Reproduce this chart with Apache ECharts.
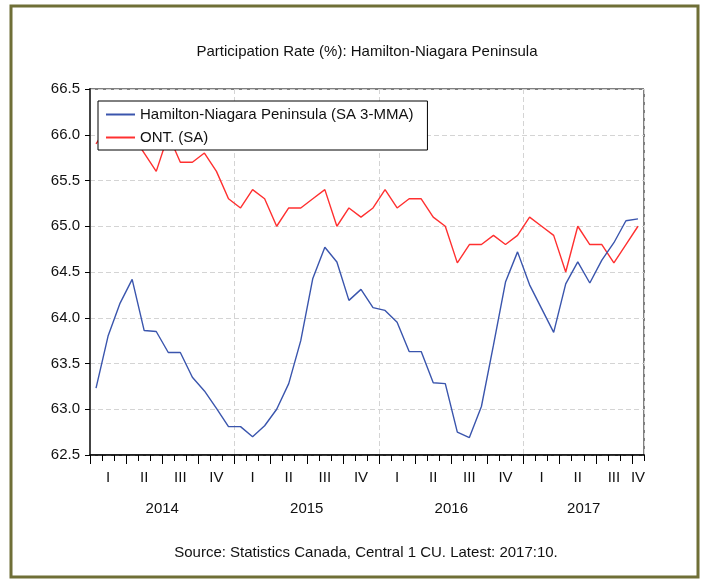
<!DOCTYPE html>
<html>
<head>
<meta charset="utf-8">
<script src="https://cdn.jsdelivr.net/npm/echarts@6/dist/echarts.min.js"></script>
<style>
  html, body { margin: 0; padding: 0; background: #fff; }
  #chart { width: 704px; height: 580px; }
</style>
</head>
<body>
<div id="chart"></div>
<script>
// Monthly observations, Jan 2014 - Oct 2017
const months = [
  '2014:01','2014:02','2014:03','2014:04','2014:05','2014:06','2014:07','2014:08','2014:09','2014:10','2014:11','2014:12',
  '2015:01','2015:02','2015:03','2015:04','2015:05','2015:06','2015:07','2015:08','2015:09','2015:10','2015:11','2015:12',
  '2016:01','2016:02','2016:03','2016:04','2016:05','2016:06','2016:07','2016:08','2016:09','2016:10','2016:11','2016:12',
  '2017:01','2017:02','2017:03','2017:04','2017:05','2017:06','2017:07','2017:08','2017:09','2017:10'
];

// Participation rate, Hamilton-Niagara Peninsula (SA 3-month moving average)
const hamiltonNiagara = [
  63.23, 63.80, 64.16, 64.42, 63.86, 63.85, 63.62, 63.62, 63.35, 63.20, 63.01, 62.81,
  62.81, 62.70, 62.82, 63.00, 63.28, 63.75, 64.43, 64.77, 64.61, 64.19, 64.31, 64.11,
  64.08, 63.95, 63.63, 63.63, 63.29, 63.28, 62.75, 62.69, 63.03, 63.70, 64.39, 64.72,
  64.36, 64.10, 63.84, 64.37, 64.61, 64.38, 64.63, 64.82, 65.06, 65.08
];

// Participation rate, Ontario (SA)
const ontario = [
  65.9, 66.1, 66.0, 66.0, 65.8, 65.6, 66.0, 65.7, 65.7, 65.8, 65.6, 65.3,
  65.2, 65.4, 65.3, 65.0, 65.2, 65.2, 65.3, 65.4, 65.0, 65.2, 65.1, 65.2,
  65.4, 65.2, 65.3, 65.3, 65.1, 65.0, 64.6, 64.8, 64.8, 64.9, 64.8, 64.9,
  65.1, 65.0, 64.9, 64.5, 65.0, 64.8, 64.8, 64.6, 64.8, 65.0
];

const quarterNames = ['I', 'II', 'III', 'IV'];
const seriesNames = ['Hamilton-Niagara Peninsula (SA 3-MMA)', 'ONT. (SA)'];
const titleText = 'Participation Rate (%): Hamilton-Niagara Peninsula';
const sourceText = 'Source: Statistics Canada, Central 1 CU. Latest: 2017:10.';

// Group month indices into quarters and years to place the period labels
function groupCentres(keyOf) {
  const groups = [];
  months.forEach((m, i) => {
    const key = keyOf(m);
    const last = groups[groups.length - 1];
    if (last && last.key === key) last.end = i + 1;
    else groups.push({ key: key, start: i, end: i + 1 });
  });
  return groups;
}
const quarterGroups = groupCentres(m => m.slice(0, 4) + 'Q' + Math.floor((+m.slice(5) - 1) / 3));
const yearGroups = groupCentres(m => m.slice(0, 4));

const quarterLabelPos = quarterGroups.map(g => (g.start + g.end) / 2);
const quarterTickPos = quarterGroups.map(g => g.start);
const yearLabelPos = yearGroups.map(g => (g.start + g.end) / 2);

function quarterLabel(v) {
  const g = quarterGroups.find(q => v > q.start && v < q.end);
  return g ? quarterNames[+g.key.split('Q')[1]] : '';
}
function yearLabel(v) {
  const g = yearGroups.find(y => v > y.start && v < y.end);
  return g ? g.key : '';
}

const FONT = '"Liberation Sans", Arial, sans-serif';
const n = months.length;

const chart = echarts.init(document.getElementById('chart'));
chart.setOption({
  animation: false,
  backgroundColor: '#ffffff',
  textStyle: { fontFamily: FONT },
  title: [
    {
      text: titleText, left: 367, top: 44, textAlign: 'center', padding: 0,
      textStyle: { fontFamily: FONT, fontSize: 15, fontWeight: 'normal', color: '#111' }
    },
    {
      text: sourceText, left: 366, top: 545, textAlign: 'center', padding: 0,
      textStyle: { fontFamily: FONT, fontSize: 15, fontWeight: 'normal', color: '#111' }
    }
  ],
  graphic: [{
    type: 'rect',
    shape: { x: 11, y: 6, width: 687, height: 571 },
    style: { fill: 'none', stroke: '#6f6f37', lineWidth: 3 },
    silent: true
  }],
  legend: {
    orient: 'vertical',
    left: 98, top: 101,
    padding: [5, 14, 4, 8],
    itemGap: 6,
    itemWidth: 29,
    itemHeight: 2,
    icon: 'rect',
    backgroundColor: '#ffffff',
    borderColor: '#000',
    borderWidth: 1,
    textStyle: { fontFamily: FONT, fontSize: 15, color: '#111', lineHeight: 17 },
    data: seriesNames
  },
  grid: {
    left: 90, top: 89, width: 554, height: 366,
    show: true, borderColor: '#000', borderWidth: 1, backgroundColor: 'transparent'
  },
  xAxis: [
    {
      type: 'category',
      data: months,
      boundaryGap: true,
      position: 'bottom',
      axisLine: { show: true, lineStyle: { color: '#000', width: 1.5 } },
      axisTick: { show: true, interval: 0, length: 6, inside: false, lineStyle: { color: '#000' } },
      axisLabel: { show: false },
      splitLine: {
        show: true,
        interval: (idx) => idx > 0 && idx % 12 === 0,
        lineStyle: { color: '#d4d4d4', type: [5, 3], width: 1 }
      }
    },
    {
      type: 'value', min: 0, max: n, position: 'bottom',
      axisLine: { show: false },
      axisTick: { show: true, customValues: quarterTickPos, length: 9, lineStyle: { color: '#000' } },
      axisLabel: {
        show: true, customValues: quarterLabelPos, margin: 15,
        formatter: quarterLabel,
        fontFamily: FONT, fontSize: 15, color: '#111'
      },
      splitLine: { show: false }
    },
    {
      type: 'value', min: 0, max: n, position: 'bottom',
      axisLine: { show: false },
      axisTick: { show: false },
      axisLabel: {
        show: true, customValues: yearLabelPos, margin: 46,
        formatter: yearLabel,
        fontFamily: FONT, fontSize: 15, color: '#111'
      },
      splitLine: { show: false }
    }
  ],
  yAxis: [
    {
      type: 'value', min: 62.5, max: 66.5, interval: 0.5,
      axisLine: { show: true, lineStyle: { color: '#000', width: 1.5 } },
      axisTick: { show: true, length: 5, inside: false, lineStyle: { color: '#000' } },
      axisLabel: {
        formatter: v => v.toFixed(1), margin: 10,
        fontFamily: FONT, fontSize: 15, color: '#111'
      },
      splitLine: { show: true, lineStyle: { color: '#d4d4d4', type: [5, 3], width: 1 } }
    },
    {
      type: 'value', min: 62.5, max: 66.5, interval: 0.5, position: 'right',
      axisLine: { show: true, lineStyle: { color: '#444', width: 2 } },
      axisTick: { show: false },
      axisLabel: { show: false },
      splitLine: { show: false }
    }
  ],
  series: [
    {
      name: seriesNames[0], type: 'line', data: hamiltonNiagara,
      xAxisIndex: 0, yAxisIndex: 0,
      symbol: 'none', lineStyle: { color: '#3a55ad', width: 1.4 }, itemStyle: { color: '#3a55ad' },
      z: 3
    },
    {
      name: seriesNames[1], type: 'line', data: ontario,
      xAxisIndex: 0, yAxisIndex: 0,
      symbol: 'none', lineStyle: { color: '#ff3030', width: 1.4 }, itemStyle: { color: '#ff3030' },
      z: 2
    }
  ]
});
</script>
</body>
</html>
